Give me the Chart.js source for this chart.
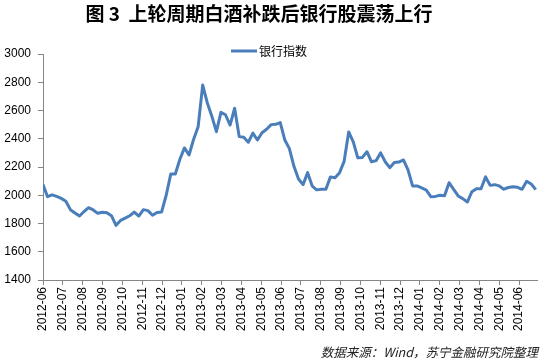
<!DOCTYPE html>
<html>
<head>
<meta charset="utf-8">
<script src="https://cdn.jsdelivr.net/npm/chart.js@4"></script>
<style>
  html, body { margin: 0; padding: 0; background: #fff; }
  canvas { display: block; }
</style>
</head>
<body>
<canvas id="chart-area" width="549" height="363"></canvas>
<script>
// подписи месяцев по оси X
var monthLabels = ['2012-06', '2012-07', '2012-08', '2012-09', '2012-10', '2012-11', '2012-12',
    '2013-01', '2013-02', '2013-03', '2013-04', '2013-05', '2013-06', '2013-07', '2013-08',
    '2013-09', '2013-10', '2013-11', '2013-12', '2014-01', '2014-02', '2014-03', '2014-04',
    '2014-05', '2014-06'];

// недельные значения индекса
var bankIndex = [
    2075, 1990, 2003, 1992, 1978, 1958, 1898, 1875, 1853, 1885,
    1912, 1896, 1872, 1880, 1876, 1855, 1787, 1822, 1838, 1855,
    1881, 1853, 1898, 1891, 1858, 1878, 1882, 2000, 2150, 2150,
    2255, 2335, 2285, 2395, 2485, 2780, 2655, 2560, 2450, 2587,
    2570, 2497, 2616, 2415, 2410, 2375, 2440, 2391, 2443, 2467,
    2500, 2502, 2514, 2391, 2330, 2205, 2115, 2075, 2160, 2065,
    2038, 2042, 2042, 2130, 2124, 2160, 2240, 2448, 2378, 2265,
    2268, 2308, 2237, 2245, 2300, 2237, 2195, 2232, 2235, 2250,
    2180, 2066, 2066, 2052, 2036, 1990, 1992, 2000, 1996, 2089,
    2042, 1995, 1976, 1952, 2025, 2046, 2046, 2130, 2070, 2075,
    2066, 2043, 2055, 2060, 2056, 2042, 2099, 2080, 2040
];

var yTicks = [1400, 1600, 1800, 2000, 2200, 2400, 2600, 2800, 3000];

var seriesName = '银行指数';
var titleText = '图 3  上轮周期白酒补跌后银行股震荡上行';
var sourceText = '数据来源：Wind，苏宁金融研究院整理';

var weekStep = 7 / 30.4375; // шаг недели в месяцах
var lineColor = '#4a7ebb';
var axisColor = '#868686';

var points = bankIndex.map(function (v, i) {
    return { x: i * weekStep, y: v };
});

// заголовок, легенда и подпись источника
var decorPlugin = {
    id: 'decor',
    afterDraw: function (chart) {
        var ctx = chart.ctx;
        ctx.save();
        ctx.fillStyle = '#000';
        ctx.font = 'bold 19px "Noto Sans CJK SC"';
        ctx.textAlign = 'center';
        ctx.textBaseline = 'middle';
        ctx.fillText(titleText, 259, 14);

        // легенда
        ctx.strokeStyle = lineColor;
        ctx.lineWidth = 3;
        ctx.beginPath();
        ctx.moveTo(231, 51);
        ctx.lineTo(257, 51);
        ctx.stroke();
        ctx.font = '12px "Noto Sans CJK SC"';
        ctx.textAlign = 'left';
        ctx.fillStyle = '#000';
        ctx.fillText(seriesName, 259, 51);

        // источник
        ctx.font = 'italic 12.5px "Noto Sans CJK SC"';
        ctx.textAlign = 'right';
        ctx.fillStyle = '#222';
        ctx.fillText(sourceText, 538, 352);
        ctx.restore();
    }
};

var config = {
    type: 'line',
    data: {
        datasets: [{
            label: seriesName,
            data: points,
            borderColor: lineColor,
            borderWidth: 3,
            borderJoinStyle: 'round',
            pointRadius: 0,
            tension: 0,
            fill: false
        }]
    },
    options: {
        responsive: false,
        animation: false,
        layout: { padding: { top: 54, right: 12, left: 0, bottom: 0 } },
        plugins: {
            legend: { display: false },
            title: { display: false },
            tooltip: { enabled: false }
        },
        scales: {
            x: {
                type: 'linear',
                min: 0,
                max: 24.9,
                afterBuildTicks: function (scale) {
                    scale.ticks = monthLabels.map(function (m, i) { return { value: i }; });
                },
                afterFit: function (scale) { scale.height = 83; },
                ticks: {
                    autoSkip: false,
                    minRotation: 90,
                    maxRotation: 90,
                    padding: 2,
                    color: '#000',
                    font: { family: '"Liberation Sans", Arial', size: 12 },
                    callback: function (value) { return monthLabels[value]; }
                },
                grid: { drawOnChartArea: false, tickLength: 5, color: axisColor },
                border: { color: axisColor }
            },
            y: {
                min: 1400,
                max: 3000,
                afterBuildTicks: function (scale) {
                    scale.ticks = yTicks.map(function (v) { return { value: v }; });
                },
                afterFit: function (scale) { scale.width = 43; },
                ticks: {
                    padding: 7,
                    color: '#000',
                    font: { family: '"Liberation Sans", Arial', size: 12 },
                    callback: function (value) { return String(value); }
                },
                grid: { drawOnChartArea: false, tickLength: 5, color: axisColor },
                border: { color: axisColor }
            }
        }
    },
    plugins: [decorPlugin]
};

var ctx = document.getElementById('chart-area').getContext('2d');
window.bankChart = new Chart(ctx, config);
</script>
</body>
</html>
